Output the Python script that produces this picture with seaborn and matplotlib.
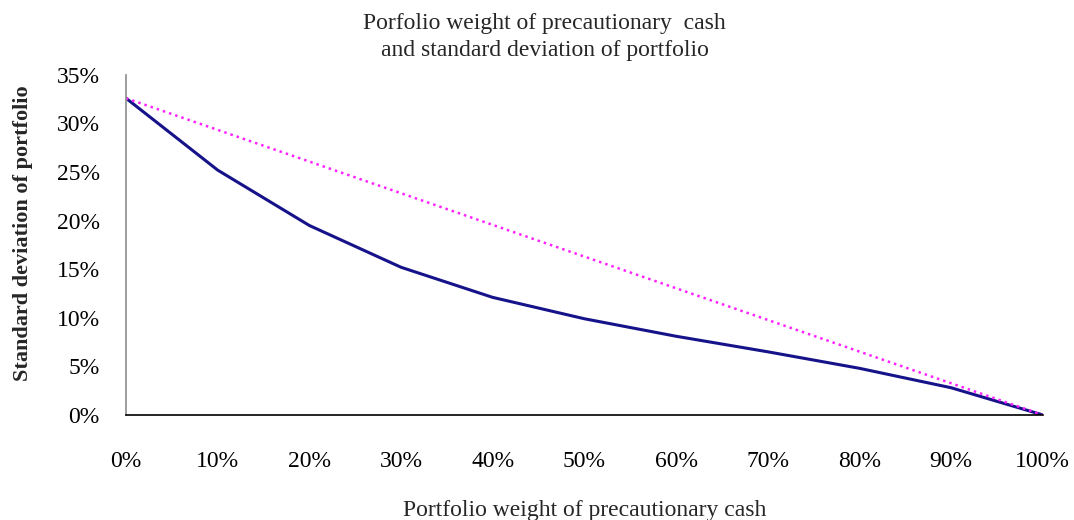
import matplotlib
matplotlib.use("Agg")
import matplotlib.pyplot as plt
import matplotlib.ticker as mtick
import seaborn as sns
import pandas as pd

weights = [0, 10, 20, 30, 40, 50, 60, 70, 80, 90, 100]
std_portfolio = [32.6, 25.2, 19.5, 15.2, 12.1, 9.9, 8.1, 6.5, 4.8, 2.8, 0.0]
std_linear = [32.6, 0.0]
linear_weights = [0, 100]

sns.set_style("white")
plt.rcParams['font.family'] = ['Liberation Serif', 'DejaVu Serif']

fig = plt.figure(figsize=(10.74, 5.2), dpi=100)
ax = fig.add_axes([0.1173, 0.202, 0.8537, 0.654])

df = pd.DataFrame({"w": weights, "sd": std_portfolio})
sns.lineplot(data=df, x="w", y="sd", ax=ax, color="#16128a", linewidth=2.2)
sns.lineplot(x=linear_weights, y=std_linear, ax=ax, color="#ff22ff",
             linewidth=1.8, linestyle=(0, (1, 1.6)))

ax.set_xlim(0, 100)
ax.set_ylim(0, 35)
ax.set_xticks(range(0, 101, 10))
ax.set_yticks(range(0, 36, 5))
ax.xaxis.set_major_formatter(mtick.FuncFormatter(lambda v, p: f"{v:.0f}%"))
ax.yaxis.set_major_formatter(mtick.FuncFormatter(lambda v, p: f"{v:.0f}%"))
ax.tick_params(axis="both", length=0, labelsize=17, colors="black")
ax.tick_params(axis="x", pad=26)
ax.tick_params(axis="y", pad=19)

for s in ["top", "right"]:
    ax.spines[s].set_visible(False)
ax.spines["left"].set_color("#8c8c8c")
ax.spines["left"].set_linewidth(1.2)
ax.spines["bottom"].set_color("black")
ax.spines["bottom"].set_linewidth(1.2)
ax.grid(False)

ax.set_xlabel("Portfolio weight of precautionary cash", fontsize=17, labelpad=20)
ax.set_ylabel("Standard deviation of portfolio", fontsize=16, fontweight="bold")
ax.yaxis.set_label_coords(-0.101, 0.535)
fig.suptitle("Porfolio weight of precautionary  cash\nand standard deviation of portfolio",
             fontsize=17, y=0.975, x=0.507, linespacing=1.35)

fig.savefig("out.png", dpi=100)
